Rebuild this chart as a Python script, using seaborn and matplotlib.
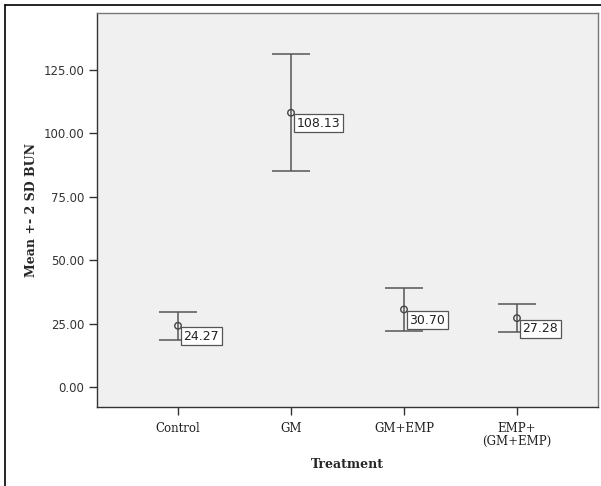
import matplotlib
matplotlib.use("Agg")
import matplotlib.pyplot as plt
import seaborn as sns
import pandas as pd
from matplotlib.lines import Line2D

groups = ["Control", "GM", "GM+EMP", "EMP+\n(GM+EMP)"]
means = [24.27, 108.13, 30.70, 27.28]
two_sd = [5.4, 23.1, 8.5, 5.6]
labels = ["24.27", "108.13", "30.70", "27.28"]
yticks = [0, 25, 50, 75, 100, 125]

df = pd.DataFrame({"Treatment": groups, "mean": means, "err": two_sd})

sns.set_theme(style="white")
fig = plt.figure(figsize=(6.01, 4.86), dpi=100)
ax = fig.add_axes([97/601, 1-407/486, (598-97)/601, (407-13)/486])
ax.set_facecolor("#f0f0f0")

ax.errorbar(range(len(groups)), df["mean"], yerr=df["err"], fmt="none",
            ecolor="#555555", elinewidth=1.1, capsize=14, capthick=1.1, zorder=2)
sns.scatterplot(data=df, x="Treatment", y="mean", ax=ax, marker="o", s=22,
                facecolor="none", edgecolor="#444444", linewidth=1.0, zorder=3, legend=False)

for i, (m, lab) in enumerate(zip(means, labels)):
    ax.annotate(lab, xy=(i, m), xytext=(4, -3), textcoords="offset points",
                ha="left", va="top", fontsize=9, color="#222222",
                family="DejaVu Sans",
                bbox=dict(boxstyle="square,pad=0.2", fc="white", ec="#555555", lw=0.9))

ax.set_xlim(-0.717, 3.717)
ax.set_ylim(-7.7, 147.4)
ax.set_yticks(yticks)
ax.set_yticklabels([f"{v:.2f}" for v in yticks], family="DejaVu Sans", fontsize=8.5, color="#333333")
ax.set_xticks(range(len(groups)))
ax.set_xticklabels(groups, family="DejaVu Serif", fontsize=8.5, color="#222222", linespacing=1.0)
ax.tick_params(axis="both", which="both", length=6, width=1, color="#333333",
               direction="out", left=True, bottom=True, pad=3)
ax.tick_params(axis="x", pad=5)
for s in ax.spines.values():
    s.set_color("#777777")
    s.set_linewidth(1.0)
ax.spines["left"].set_color("#333333")
ax.spines["bottom"].set_color("#333333")

ax.set_ylabel("Mean +- 2 SD BUN", family="DejaVu Serif", fontweight="bold", fontsize=9, labelpad=4)
ax.set_xlabel("Treatment", family="DejaVu Serif", fontweight="bold", fontsize=9, labelpad=7)

fig.add_artist(Line2D([5/601, 5/601], [0, 1-5/486], color="black", lw=1.2))
fig.add_artist(Line2D([5/601, 1], [1-5/486, 1-5/486], color="black", lw=1.2))

fig.savefig("out.png", dpi=100)
